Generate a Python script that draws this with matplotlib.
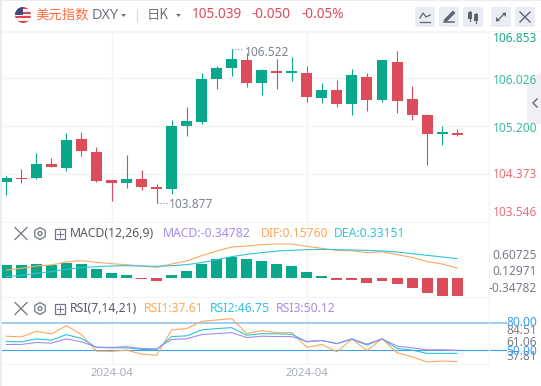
import matplotlib
matplotlib.use('Agg')
import matplotlib.pyplot as plt
from matplotlib.patches import Circle, FancyBboxPatch, Polygon, Rectangle, RegularPolygon

plt.rcParams['font.family'] = ['Noto Sans', 'Noto Sans CJK SC', 'DejaVu Sans']

W, H = 541, 386
GREEN = '#0aa88a'
RED = '#dc4c5a'
ORANGE = '#ffa85c'
CYAN = '#2fc4dc'
PURPLE = '#a78be8'
GRID = '#f2f4f8'
GRAY = '#6f7480'

opens = [104.235, 104.30, 104.30, 104.545, 104.475, 104.975, 104.75, 104.27, 104.22, 104.285, 104.15,
         104.115, 105.20, 105.27, 106.01, 106.20, 106.34, 105.94, 106.15, 106.12, 106.115,
         105.68, 105.82, 105.58, 106.045, 105.65, 106.30, 105.665, 105.39, 105.06, 105.08]
closes = [104.30, 104.28, 104.545, 104.49, 104.96, 104.77, 104.25, 104.22, 104.285, 104.15, 104.115,
          105.20, 105.285, 106.01, 106.20, 106.355, 105.94, 106.165, 106.115, 106.14, 105.70,
          105.82, 105.58, 106.08, 105.65, 106.34, 105.63, 105.39, 105.06, 105.10, 105.039]
highs = [104.34, 104.46, 104.735, 104.65, 105.08, 105.10, 104.84, 104.27, 104.70, 104.44, 104.20,
         105.30, 105.53, 106.11, 106.235, 106.522, 106.46, 106.18, 106.355, 106.39, 106.235,
         105.94, 105.99, 106.18, 106.11, 106.34, 106.49, 105.89, 105.405, 105.20, 105.15]
lows = [104.01, 104.22, 104.285, 104.49, 104.425, 104.68, 104.235, 103.91, 104.13, 104.10, 103.877,
        104.03, 105.03, 105.235, 105.84, 106.06, 105.87, 105.735, 105.84, 105.975, 105.615,
        105.60, 105.53, 105.39, 105.46, 105.615, 105.425, 105.30, 104.53, 104.87, 105.03]

macd_hist = [0.247, 0.247, 0.266, 0.247, 0.285, 0.266, 0.170, 0.093, 0.054, -0.016, -0.061,
             0.054, 0.131, 0.266, 0.362, 0.400, 0.362, 0.324, 0.266, 0.228, 0.112,
             0.035, -0.042, -0.042, -0.100, -0.061, -0.119, -0.196, -0.292, -0.349, -0.348]
dif = [0.151, 0.183, 0.228, 0.247, 0.305, 0.330, 0.298, 0.272, 0.253, 0.228, 0.202,
       0.266, 0.324, 0.426, 0.516, 0.593, 0.612, 0.638, 0.651, 0.651, 0.606,
       0.567, 0.529, 0.522, 0.484, 0.503, 0.446, 0.394, 0.311, 0.266, 0.189]
dea = [0.022, 0.048, 0.087, 0.119, 0.164, 0.196, 0.215, 0.228, 0.234, 0.228, 0.221,
       0.234, 0.253, 0.292, 0.349, 0.407, 0.452, 0.484, 0.516, 0.529, 0.542,
       0.548, 0.542, 0.535, 0.529, 0.516, 0.497, 0.465, 0.433, 0.401, 0.369]

rsi1 = [65.7, 65.0, 71.2, 68.3, 77.4, 67.5, 49.2, 48.9, 50.3, 45.9, 44.5,
        72.7, 74.1, 82.2, 83.7, 85.1, 68.6, 71.9, 69.7, 69.7, 53.3,
        56.6, 48.5, 62.4, 50.0, 62.8, 47.4, 43.0, 37.1, 38.2, 37.61]
rsi2 = [59.9, 59.5, 62.8, 61.3, 67.5, 63.2, 53.3, 52.9, 52.9, 51.1, 50.7,
        65.3, 66.1, 72.7, 74.1, 75.2, 66.8, 68.6, 68.3, 67.9, 59.5,
        61.0, 57.3, 62.4, 55.8, 62.8, 52.2, 50.3, 46.7, 46.7, 46.75]
rsi3 = [56.6, 56.6, 58.8, 58.0, 62.8, 59.5, 53.6, 53.3, 54.0, 52.2, 51.8,
        62.1, 62.8, 67.5, 68.6, 69.7, 64.2, 65.7, 65.3, 65.3, 59.9,
        61.0, 57.7, 62.8, 56.9, 62.8, 54.7, 52.9, 50.7, 50.7, 50.12]

price_ticks = [106.853, 106.026, 105.200, 104.373, 103.546]
date_ticks = [7, 20]
date_labels = ['2024-04', '2024-04']

fig = plt.figure(figsize=(W / 100, H / 100), dpi=100)


def pane(top, bottom, left=1.5, right=489):
    ax = fig.add_axes([left / W, 1 - bottom / H, (right - left) / W, (bottom - top) / H])
    ax.set_xlim(-0.32, 32.12)
    ax.set_yticks([])
    ax.tick_params(length=0)
    ax.set_xticks(date_ticks)
    ax.set_xticklabels([])
    ax.grid(axis='x', color=GRID, lw=1)
    ax.set_axisbelow(True)
    for s in ax.spines.values():
        s.set_color(GRID)
    ax.spines['left'].set_visible(False)
    return ax


idx = list(range(len(opens)))

# candles
ax = pane(32, 222)
ax.set_ylim(103.545, 106.82)
ax.set_yticks(price_ticks[1:4])
ax.set_yticklabels([])
ax.grid(axis='y', color=GRID, lw=1)
for i in idx:
    c = GREEN if closes[i] >= opens[i] else RED
    ax.vlines(i, lows[i], highs[i], color=c, lw=0.8)
    ax.bar(i, abs(closes[i] - opens[i]), bottom=min(opens[i], closes[i]), width=0.73, color=c, lw=0)
ax.plot([15, 15.75], [highs[15], highs[15]], color='#8a8f9c', lw=0.8, ls=':')
ax.text(15.85, highs[15] - 0.06, '106.522', color='#7d8290', fontsize=8.6, va='center')
ax.plot([10, 10.85], [lows[10], lows[10]], color='#8a8f9c', lw=0.8, ls=':')
ax.text(10.85, lows[10] - 0.03, '103.877', color='#7d8290', fontsize=8.6, va='center')

# macd
ax2 = pane(222, 296.5)
ax2.set_ylim(-0.359, 1.074)
ax2.bar(idx, macd_hist, width=0.73, color=[GREEN if v >= 0 else RED for v in macd_hist], lw=0)
ax2.plot(idx, dif, color=ORANGE, lw=0.8)
ax2.plot(idx, dea, color=CYAN, lw=0.8)

# rsi
ax3 = pane(296.5, 364.3)
ax3.set_ylim(34.6, 109.7)
ax3.axhline(80, xmax=1.035, color='#9fcdf6', lw=1.4, clip_on=False)
ax3.axhline(50, xmax=1.035, color='#3f9fe8', lw=0.8, clip_on=False)
ax3.plot(idx, rsi1, color=ORANGE, lw=0.8)
ax3.plot(idx, rsi2, color=CYAN, lw=0.8)
ax3.plot(idx, rsi3, color=PURPLE, lw=0.8)
ax3.set_xticklabels(date_labels, fontsize=8.2, color='#a9adb8')
ax3.tick_params(axis='x', pad=2.5)

# everything around the panes, in pixels
ov = fig.add_axes([0, 0, 1, 1], zorder=5)
ov.set_xlim(0, W)
ov.set_ylim(H, 0)
ov.axis('off')
ov.patch.set_alpha(0)

ov.add_patch(Rectangle((0, 0), W, 1, color='#e8ecf4', lw=0))
ov.add_patch(Rectangle((0, 0), 1.5, H, color='#e8ecf4', lw=0))
ov.add_patch(Rectangle((1.5, 30.5), W, 1.5, color='#f3f5f9', lw=0))

# flag
clip = Circle((23, 15), 8, transform=ov.transData)
for k in range(7):
    r = ov.add_patch(Rectangle((15, 7 + k * 16 / 7), 16, 16 / 7, color='#e0454f' if k % 2 == 0 else '#f7f0f0', lw=0))
    r.set_clip_path(clip)
r = ov.add_patch(Rectangle((15, 7), 8, 8, color='#3f4a78', lw=0))
r.set_clip_path(clip)

ov.text(35, 14.5, '美元指数', color='#ff6f3f', fontsize=9.6, va='center', family=['Noto Sans CJK SC', 'DejaVu Sans'])
ov.text(91.5, 15.5, 'DXY', color=GRAY, fontsize=10.4, va='center')
ov.add_patch(Polygon([(121, 14), (126, 14), (123.5, 17)], color=GRAY, lw=0))
ov.plot([137, 137], [9, 21], color='#d5d8de', lw=0.8)
ov.text(147, 14.5, '日K', color=GRAY, fontsize=9.6, va='center', family=['Noto Sans CJK SC', 'DejaVu Sans'])
ov.add_patch(Polygon([(176, 14), (181, 14), (178.5, 17)], color=GRAY, lw=0))
ov.text(192, 14.5, '105.039', color=RED, fontsize=9.8, weight='bold', va='center')
ov.text(252, 14.5, '-0.050', color=RED, fontsize=9.8, weight='bold', va='center')
ov.text(301, 14.5, '-0.05%', color=RED, fontsize=9.8, weight='bold', va='center')

# toolbar buttons
for x0 in [415, 439, 463, 491, 515]:
    ov.add_patch(FancyBboxPatch((x0 + 2, 9), 16, 16, boxstyle='round,pad=2', color='#e9ecf2', lw=0))
ic = '#5f6470'
ov.plot([420, 430], [22, 22], color=ic, lw=0.9)
ov.plot([420, 423, 426, 430], [18, 13, 17, 15], color=ic, lw=0.9)
ov.plot([444, 454], [22, 22], color=ic, lw=1.1)
ov.plot([446, 453], [20, 13], color=ic, lw=2.5)
for x0, y0, y1 in [(470, 12, 19), (476, 14, 21)]:
    ov.add_patch(Rectangle((x0 - 2, y0), 4, y1 - y0, color=ic, lw=0))
    ov.plot([x0, x0], [y0 - 1.5, y1 + 1.5], color=ic, lw=0.8)
ov.plot([497, 505], [21, 13], color=ic, lw=0.9)
ov.add_patch(Polygon([(502, 13), (506, 13), (506, 17)], color=ic, lw=0))
ov.add_patch(Polygon([(496, 17), (496, 21), (500, 21)], color=ic, lw=0))
ov.plot([520, 530], [12, 22], color=ic, lw=1)
ov.plot([520, 530], [22, 12], color=ic, lw=1)

# side tab
ov.add_patch(Polygon([(541, 72), (527, 82), (527, 124), (541, 124)], color='#eeeef3', lw=0, alpha=0.9))
ov.plot([537, 533, 537], [99, 103, 107], color=GRAY, lw=1.1)

# price labels
price_y = [39, 80, 128, 175, 212]
price_col = ['#1fab90', '#3fb8a0', '#3fb8a0', '#e8707c', '#e8707c']
for v, y, c in zip(price_ticks, price_y, price_col):
    ov.text(537.5, y, f'{v:.3f}', color=c, fontsize=8.6, ha='right', va='center')


def pane_header(y, name, items):
    ov.plot([15, 27], [y - 6, y + 6], color=GRAY, lw=0.9)
    ov.plot([15, 27], [y + 6, y - 6], color=GRAY, lw=0.9)
    ov.add_patch(RegularPolygon((40, y), 6, radius=6, fill=False, ec=GRAY, lw=0.9))
    ov.add_patch(Circle((40, y), 2, fill=False, ec=GRAY, lw=0.9))
    ov.add_patch(Rectangle((55, y - 5), 10, 10, fill=False, ec=GRAY, lw=0.9))
    ov.plot([60, 60], [y - 3, y + 3], color=GRAY, lw=0.7)
    ov.plot([57, 63], [y, y], color=GRAY, lw=0.7)
    ov.text(70, y, name, color='#555a66', fontsize=8.8, va='center')
    for x, s, c in items:
        ov.text(x, y, s, color=c, fontsize=8.8, va='center')


pane_header(233.5, 'MACD(12,26,9)', [(163, 'MACD:-0.34782', PURPLE), (261, 'DIF:0.15760', ORANGE), (334, 'DEA:0.33151', CYAN)])
pane_header(308.5, 'RSI(7,14,21)', [(144, 'RSI1:37.61', ORANGE), (210, 'RSI2:46.75', CYAN), (276, 'RSI3:50.12', PURPLE)])

for s, y in [('0.60725', 255.7), ('0.12971', 271.7), ('-0.34782', 288)]:
    ov.text(537, y, s, color='#787d89', fontsize=8.6, ha='right', va='center')
for s, y, c in [('84.51', 331, '#787d89'), ('61.06', 342.5, '#787d89'), ('37.81', 356.5, '#787d89'),
                ('80.00', 323, '#3a9df0'), ('50.00', 351.5, '#3a9df0')]:
    ov.text(537, y, s, color=c, fontsize=8.6, ha='right', va='center')

fig.savefig('out.png', dpi=100)
